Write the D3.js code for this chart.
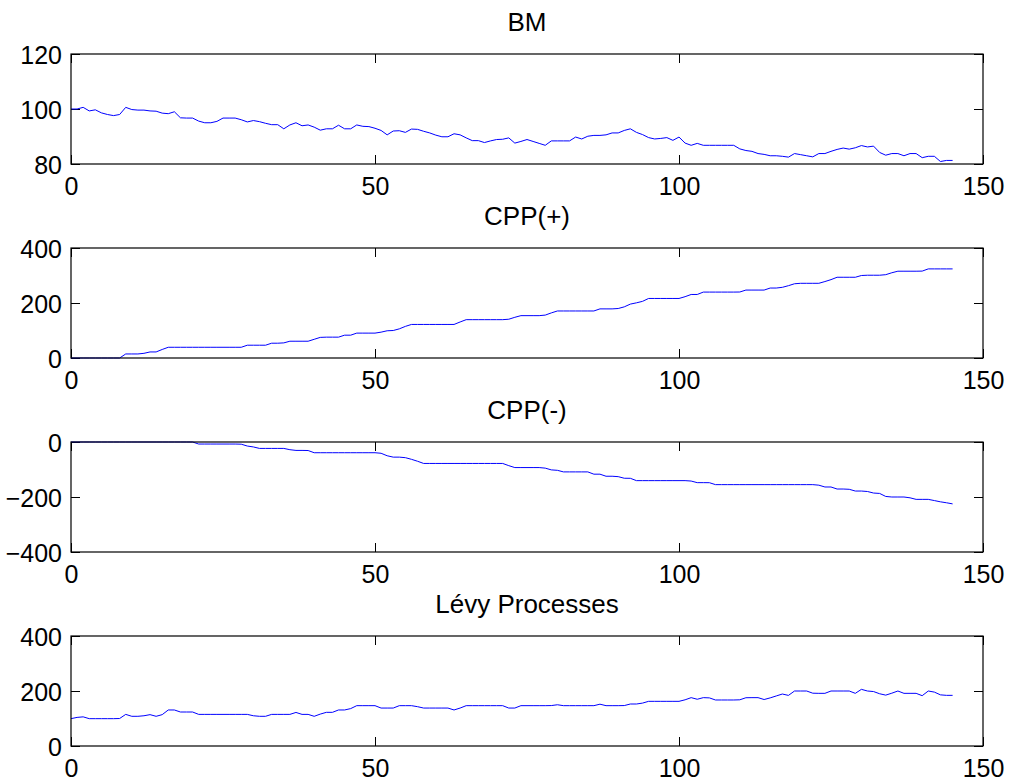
<!DOCTYPE html>
<html>
<head>
<meta charset="utf-8">
<script src="https://cdn.jsdelivr.net/npm/d3@7/dist/d3.min.js"></script>
<style>
  html, body { margin: 0; padding: 0; background: #fff; }
  svg text { font-family: "Liberation Sans", Arial, sans-serif; fill: #000; }
</style>
</head>
<body>
<div id="chart"></div>
<script>
const titles = ["BM", "CPP(+)", "CPP(-)", "Lévy Processes"];
const xTicks = [0, 50, 100, 150];

const bm = [
  100, 100, 100.6, 99.3, 99.7, 98.6, 98, 97.6, 98, 100.6,
  99.8, 99.6, 99.6, 99.3, 99.2, 98.5, 98.3, 99, 96.8, 96.7,
  96.7, 95.6, 95, 95, 95.5, 96.7, 96.7, 96.7, 96.1, 95.3,
  95.8, 95.4, 94.8, 94.3, 94.3, 92.8, 94.2, 95, 93.9, 94.2,
  93.4, 92.3, 92.8, 92.8, 94.1, 92.8, 92.8, 94.2, 93.7, 93.6,
  93, 92.2, 90.6, 92, 92.1, 91.5, 92.7, 92.6, 91.9, 91.3,
  90.5, 89.9, 89.9, 91, 90.6, 89.5, 88.5, 88.5, 87.8, 88.4,
  88.9, 89, 89.5, 87.6, 88.2, 88.9, 88.2, 87.5, 86.8, 88.4,
  88.4, 88.4, 88.4, 89.8, 89.1, 90.1, 90.4, 90.4, 90.6, 91.3,
  91.3, 92.2, 92.8, 91.5, 90.7, 89.6, 89.1, 89.3, 89.6, 88.6,
  89.8, 87.6, 86.8, 87.5, 86.8, 86.8, 86.8, 86.8, 86.8, 86.8,
  85.5, 84.9, 84.6, 83.8, 83.5, 83, 83, 82.8, 82.5, 83.8,
  83.4, 83, 82.6, 83.8, 83.8, 84.6, 85.3, 85.8, 85.4, 85.9,
  86.7, 86.2, 86.5, 84.2, 83.2, 83.8, 83.8, 83, 83.8, 83.8,
  82.3, 82.8, 82.8, 80.9, 81.3, 81.3
];

const cppPlus = [
  0, 0, 0, 0, 0, 0, 0, 0, 0, 14.7,
  14.7, 14.7, 17, 22, 22, 31, 39, 39, 39, 39,
  39, 39, 39, 39, 39, 39, 39, 39, 39, 46.5,
  46.5, 46.5, 46.5, 53.8, 53.8, 55, 61, 61, 61, 61,
  68, 75, 75.8, 75.8, 75.8, 83, 83, 90.5, 90.5, 90.5,
  90.5, 94, 99, 100, 106, 115, 122, 122, 122, 122,
  122, 122, 122, 122, 131, 139.4, 139.4, 139.4, 139.4, 139.4,
  139.4, 139.4, 141, 148, 154, 154, 154, 154, 156, 164,
  171, 171, 171, 171, 171, 171, 171, 178.6, 178.6, 178.6,
  180, 186, 196, 200.6, 206, 216.5, 216.5, 216.5, 216.5, 216.5,
  216.5, 223, 231, 231, 239.7, 239.7, 239.7, 239.7, 239.7, 239.7,
  240, 247, 247, 247, 247, 254.4, 254.4, 257, 263, 270,
  271.6, 271.6, 271.6, 271.6, 278, 285, 293.6, 293.6, 293.6, 293.6,
  300, 301, 301, 301, 303, 310, 315.6, 315.6, 315.6, 315.6,
  316, 324, 324, 324, 324, 324
];

const cppMinus = [
  0, 0, 0, 0, 0, 0, 0, 0, 0, 0,
  0, 0, 0, 0, 0, 0, 0, 0, 0, 0,
  0, -7.4, -7.4, -7.4, -7.4, -7.4, -7.4, -7.4, -8, -14.7,
  -18, -23.3, -23.3, -23.3, -23.3, -23.3, -28, -30.6, -30.6, -31,
  -39, -39, -39, -39, -39, -39, -39, -39, -39, -39,
  -39, -41, -50, -55, -55, -57, -63, -70, -78, -78,
  -78, -78, -78, -78, -78, -78, -78, -78, -78, -78,
  -78, -78, -86, -93, -93, -93, -93, -93, -95, -101.4,
  -103, -108.7, -108.7, -108.7, -108.7, -108.7, -117, -117, -124.5, -124.5,
  -126, -131.8, -132, -140.5, -140.5, -140.5, -140.5, -140.5, -140.5, -140.5,
  -140.5, -140.5, -142, -147.8, -147.8, -148, -155, -155, -155, -155,
  -155, -155, -155, -155, -155, -155, -155, -155, -155, -155,
  -155, -155, -155, -157, -163.6, -163.6, -171, -171, -172, -178.3,
  -178.3, -180, -185.6, -187, -198, -200, -200, -200, -203, -208.6,
  -208.6, -208.6, -213, -217.5, -221, -225
];

const levy = [
  99.4, 104, 106, 99.4, 99.4, 99.4, 99.4, 99.4, 100, 115,
  108, 108, 110, 114, 108, 114, 131, 131, 123.6, 123.6,
  123.6, 115, 115, 115, 115, 115, 115, 115, 115, 115,
  110, 108, 108, 115, 115, 115, 115, 122, 115, 115,
  108, 116, 122.4, 122.4, 131, 131, 136, 146.7, 146.7, 146.7,
  146.7, 138, 138, 138, 146.7, 146.7, 146.7, 143, 138, 138,
  138, 138, 138, 131, 138, 146.7, 146.7, 146.7, 146.7, 146.7,
  146.7, 146.7, 138, 138, 146.7, 146.7, 146.7, 146.7, 146.7, 147,
  150, 146.7, 146.7, 146.7, 146.7, 146.7, 146.7, 152, 146.7, 146.7,
  146.7, 147, 152.7, 152.7, 156, 162.4, 162.4, 162.4, 162.4, 162.4,
  162.4, 168, 175.8, 170, 175.8, 175, 167.3, 167.3, 167.3, 167.3,
  168, 175.5, 175.8, 175.8, 169, 175, 182, 189, 184, 200,
  200, 200, 192, 191.5, 191.5, 200, 200, 200, 200, 191.5,
  206, 200, 198, 190, 185, 192, 200, 191.5, 191.5, 191.5,
  183, 200, 196, 186, 184.2, 184.2
];

const yDomains = [[80, 120], [0, 400], [-400, 0], [0, 400]];
const yTicks = [[80, 100, 120], [0, 200, 400], [-400, -200, 0], [0, 200, 400]];
const series = [bm, cppPlus, cppMinus, levy];

const width = 1011, height = 782;
const margin = {left: 71, right: 28};
const panelTop = 54, panelStep = 194, panelHeight = 110;
const tickLen = 9;
const fontSize = 25;

const svg = d3.select("#chart").append("svg")
    .attr("width", width)
    .attr("height", height)
    .style("display", "block");

svg.append("rect").attr("width", width).attr("height", height).attr("fill", "#fff");

const x = d3.scaleLinear()
    .domain([0, 150])
    .range([margin.left, width - margin.right]);

function drawPanel(i) {
  const top = panelTop + i * panelStep;
  const bottom = top + panelHeight;
  const y = d3.scaleLinear().domain(yDomains[i]).range([bottom, top]);
  const g = svg.append("g");

  // inward ticks on all four sides, like MATLAB
  g.append("g")
    .attr("transform", `translate(0,${bottom})`)
    .call(d3.axisBottom(x).tickValues(xTicks).tickSize(-tickLen).tickPadding(12).tickSizeOuter(0))
    .call(a => a.select(".domain").remove())
    .call(a => a.selectAll("text").attr("font-size", fontSize).attr("dy", "0.74em"));

  g.append("g")
    .attr("transform", `translate(0,${top})`)
    .call(d3.axisTop(x).tickValues(xTicks).tickSize(-tickLen).tickFormat("").tickSizeOuter(0))
    .call(a => a.select(".domain").remove());

  g.append("g")
    .attr("transform", `translate(${margin.left},0)`)
    .call(d3.axisLeft(y).tickValues(yTicks[i]).tickSize(-tickLen).tickPadding(9).tickSizeOuter(0))
    .call(a => a.select(".domain").remove())
    .call(a => a.selectAll("text").attr("font-size", fontSize).attr("dy", "0.36em"));

  g.append("g")
    .attr("transform", `translate(${width - margin.right},0)`)
    .call(d3.axisRight(y).tickValues(yTicks[i]).tickSize(-tickLen).tickFormat("").tickSizeOuter(0))
    .call(a => a.select(".domain").remove());

  g.selectAll(".tick line").attr("stroke", "#000").attr("stroke-width", 1);

  const line = d3.line()
    .x((d, k) => x(k))
    .y(d => y(d));

  g.append("path")
    .datum(series[i])
    .attr("fill", "none")
    .attr("stroke", "#0000ff")
    .attr("stroke-width", 1)
    .attr("d", line);

  g.append("rect")
    .attr("x", margin.left)
    .attr("y", top)
    .attr("width", x(150) - margin.left)
    .attr("height", panelHeight)
    .attr("fill", "none")
    .attr("stroke", "#000")
    .attr("stroke-width", 1.2);

  g.append("text")
    .attr("x", (x(0) + x(150)) / 2)
    .attr("y", top - 23)
    .attr("text-anchor", "middle")
    .attr("font-size", 26)
    .text(titles[i]);
}

titles.forEach((t, i) => drawPanel(i));
</script>
</body>
</html>
